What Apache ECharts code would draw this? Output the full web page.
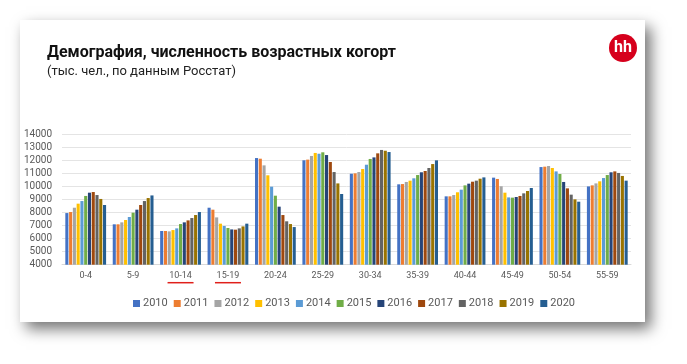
<!DOCTYPE html>
<html><head><meta charset="utf-8">
<script src="https://cdn.jsdelivr.net/npm/echarts@6/dist/echarts.min.js"></script>
<style>html,body{margin:0;padding:0;background:#fff}#c{width:687px;height:364px}</style>
</head><body><div id="c"></div>
<script>
const categories = ['0-4','5-9','10-14','15-19','20-24','25-29','30-34','35-39','40-44','45-49','50-54','55-59'];
const years = ['2010','2011','2012','2013','2014','2015','2016','2017','2018','2019','2020'];
const colors = ['#4472C4','#ED7D31','#A5A5A5','#FFC000','#5B9BD5','#70AD47','#264478','#9E480E','#636363','#997300','#255E91'];
const yTicks = [4000,14000,1000];
const highlighted = ['10-14','15-19'];
// values per year, in category order
const v2010 = [7950,7090,6580,8360,12160,11990,10960,10150,9230,10660,11470,9990];
const v2011 = [8030,7090,6580,8210,12110,12040,10990,10170,9230,10560,11500,10070];
const v2012 = [8360,7240,6550,7620,11600,12320,11090,10330,9330,10000,11550,10220];
const v2013 = [8670,7420,6650,7140,10840,12550,11320,10430,9540,9510,11400,10380];
const v2014 = [8870,7650,6780,6960,9970,12490,11650,10610,9740,9150,11140,10630];
const v2015 = [9260,7980,7110,6810,9280,12600,12090,10860,10070,9130,10940,10860];
const v2016 = [9510,8210,7240,6700,8440,12390,12210,11070,10200,9180,10330,11070];
const v2017 = [9560,8570,7390,6680,7800,11860,12520,11170,10350,9260,9840,11140];
const v2018 = [9330,8870,7570,6780,7320,11090,12780,11400,10430,9460,9360,11020];
const v2019 = [9030,9100,7800,6930,7110,10220,12720,11700,10580,9640,9000,10790];
const v2020 = [8570,9300,8030,7140,6880,9410,12620,11985,10680,9870,8820,10430];
const values = [v2010,v2011,v2012,v2013,v2014,v2015,v2016,v2017,v2018,v2019,v2020];

const chart = echarts.init(document.getElementById('c'), null, {renderer:'canvas'});
const series = years.map((y,i)=>({
  name:y, type:'bar', data:values[i], barGap:'22%', barCategoryGap:'14%',
  itemStyle:{color:colors[i]}
}));
const baseGraphic = [
  {id:'card', type:'rect', z:-10, shape:{x:20,y:20,width:625,height:302},
   style:{fill:'#fff', shadowBlur:14, shadowOffsetX:6, shadowOffsetY:7, shadowColor:'rgba(0,0,0,0.55)'}},
  {id:'logo', type:'circle', shape:{cx:623,cy:48,r:14}, style:{fill:'#d6001c'}},
  {id:'logoText', type:'text', style:{x:623,y:48,text:'hh',fill:'#fff',font:'bold 16px Roboto',textAlign:'center',textVerticalAlign:'middle'}}
];
chart.setOption({
  animation:false,
  backgroundColor:'#ffffff',
  color:colors,
  graphic:baseGraphic,
  title:{
    text:'Демография, численность возрастных когорт',
    subtext:'(тыс. чел., по данным Росстат)',
    left:42, top:40, itemGap:4,
    textStyle:{fontFamily:'Roboto',fontWeight:'bold',fontSize:16,color:'#111'},
    subtextStyle:{fontFamily:'Roboto',fontSize:13,color:'#222'}
  },
  legend:{
    data:years, top:293, left:128, icon:'rect', itemWidth:7, itemHeight:7, itemGap:6,
    textStyle:{fontFamily:'Roboto',fontSize:11,color:'#595959',padding:[0,0,0,-2]}
  },
  grid:{left:62,right:56,top:134,bottom:99.3},
  xAxis:{
    type:'category', data:categories,
    axisLine:{lineStyle:{color:'#d9d9d9'}}, axisTick:{show:false},
    axisLabel:{fontFamily:'Roboto',fontSize:9,color:'#595959',margin:7}
  },
  yAxis:{
    type:'value', min:yTicks[0], max:yTicks[1], interval:yTicks[2],
    axisLine:{show:false}, axisTick:{show:false},
    axisLabel:{fontFamily:'Roboto',fontSize:10,color:'#595959',margin:10,formatter:v=>String(v)},
    splitLine:{lineStyle:{color:'#e4e4e4'}}
  },
  series:series
});
// red underlines under highlighted categories
const extra = highlighted.map((c,i)=>{
  const x = chart.convertToPixel({xAxisIndex:0}, c);
  const y = chart.convertToPixel({yAxisIndex:0}, yTicks[0]);
  return {id:'ul'+i, type:'line', shape:{x1:x-13,y1:y+18,x2:x+13,y2:y+18}, style:{stroke:'#e0201b',lineWidth:1.5}};
});
chart.setOption({graphic: baseGraphic.concat(extra)});
</script></body></html>
